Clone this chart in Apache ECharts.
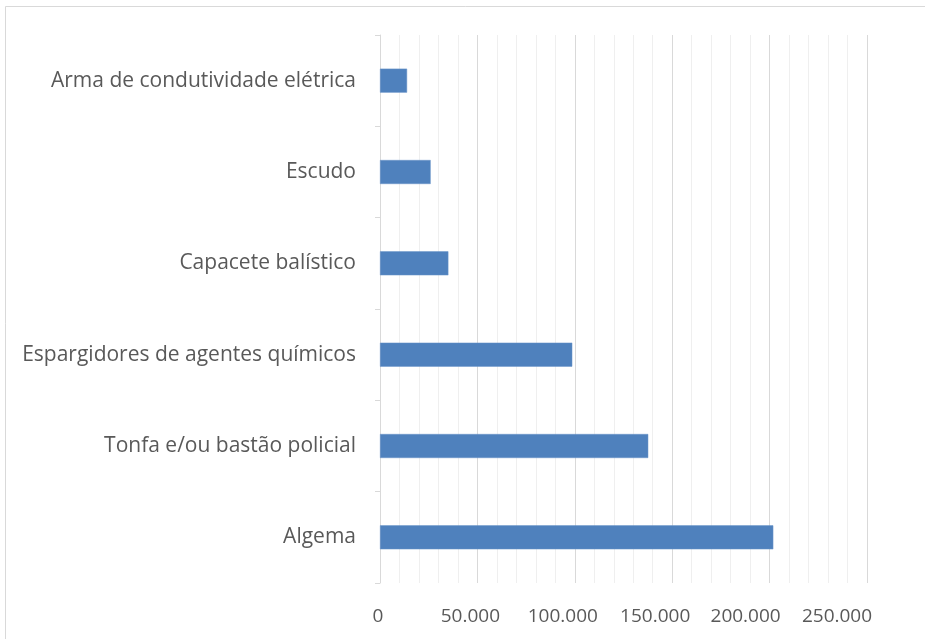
<!DOCTYPE html>
<html>
<head>
<meta charset="utf-8">
<script src="https://cdn.jsdelivr.net/npm/echarts@6/dist/echarts.min.js"></script>
<style>
html,body{margin:0;padding:0;background:#fff;}
#chart{width:925px;height:639px;}
</style>
</head>
<body>
<div id="chart"></div>
<script>
const categories = [
  "Algema",
  "Tonfa e/ou bastão policial",
  "Espargidores de agentes químicos",
  "Capacete balístico",
  "Escudo",
  "Arma de condutividade elétrica"
];
const values = [201900, 137700, 98700, 35100, 26000, 13900];
const xTicks = { min: 0, max: 250000, interval: 50000 };

function fmt(v) {
  return String(v).replace(/\B(?=(\d{3})+(?!\d))/g, ".");
}

// label left-shift (px) per tick index, mimicking the reference layout
const labelShift = [2, 7, 12, 17, 24, 30];
const rich = {};
labelShift.forEach(function (s, i) {
  rich['s' + i] = {
    color: '#595959',
    fontSize: 19,
    fontFamily: 'Open Sans',
    padding: [0, 2 * s, 0, 0]
  };
});

const chart = echarts.init(document.getElementById('chart'), null, { renderer: 'canvas' });
chart.setOption({
  backgroundColor: '#ffffff',
  animation: false,
  textStyle: { fontFamily: 'Open Sans' },
  graphic: [{
    type: 'rect',
    shape: { x: 5.5, y: 6.5, width: 930, height: 640 },
    style: { fill: 'none', stroke: '#d9d9d9', lineWidth: 1 },
    silent: true
  }],
  grid: { left: 380, right: 58, top: 35, bottom: 56, containLabel: false },
  xAxis: {
    type: 'value',
    min: xTicks.min,
    max: xTicks.max,
    interval: xTicks.interval,
    axisLine: { show: false },
    axisTick: { show: false },
    axisLabel: {
      color: '#595959',
      fontSize: 19,
      fontFamily: 'Open Sans',
      margin: 24,
      formatter: function (v) {
        const i = Math.round(v / xTicks.interval);
        return '{s' + i + '|' + fmt(v) + '}';
      },
      rich: rich
    },
    splitLine: { show: true, lineStyle: { color: '#d9d9d9', width: 1 } },
    minorTick: { show: false, splitNumber: 5 },
    minorSplitLine: { show: true, lineStyle: { color: '#efefef', width: 1 } }
  },
  yAxis: {
    type: 'category',
    data: categories,
    axisLine: { show: true, lineStyle: { color: '#d9d9d9', width: 1 } },
    axisTick: { show: true, length: 5, inside: false, lineStyle: { color: '#d9d9d9' } },
    axisLabel: {
      color: '#595959',
      fontSize: 21,
      fontFamily: 'Open Sans',
      margin: 24
    },
    splitLine: { show: false }
  },
  series: [{
    type: 'bar',
    data: values,
    barWidth: 24,
    itemStyle: { color: '#4f81bd', borderColor: '#6a95c9', borderWidth: 0.5 }
  }]
});
</script>
</body>
</html>
